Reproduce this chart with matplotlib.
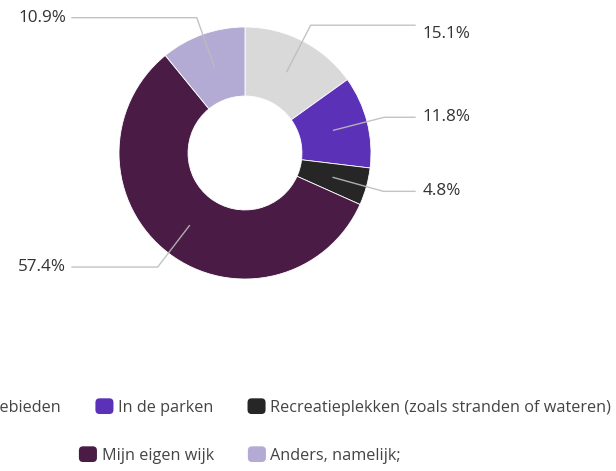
import numpy as np
import matplotlib
matplotlib.use("Agg")
import matplotlib.pyplot as plt
from matplotlib.patches import FancyBboxPatch, Patch
from matplotlib.legend_handler import HandlerPatch

# ---- data ----
categories = ["Natuurgebieden", "In de parken",
              "Recreatieplekken (zoals stranden of wateren)",
              "Mijn eigen wijk", "Anders, namelijk;"]
values = [15.1, 11.8, 4.8, 57.4, 10.9]
labels = ["15.1%", "11.8%", "4.8%", "57.4%", "10.9%"]
colors = ["#d9d9d9", "#5b31b8", "#262626", "#491b45", "#b3abd3"]

plt.rcParams['font.family'] = ['Open Sans', 'DejaVu Sans']

W, H, DPI = 616, 471, 100
fig = plt.figure(figsize=(W / DPI, H / DPI), dpi=DPI)
ax = fig.add_axes([0, 0, 1, 1])

# geometry (pixels): center and radius of the donut
cx, cy, R = 245, 153, 126

ring_w = 0.548
wedges, _ = ax.pie(values, colors=colors, startangle=90, counterclock=False,
                   radius=1, center=(0, 0), frame=True,
                   wedgeprops=dict(width=ring_w, edgecolor='white', linewidth=0.6))
ax.set_xlim(-cx / R, (W - cx) / R)
ax.set_ylim(-(H - cy) / R, cy / R)
ax.axis('off')

r_start = 1 - ring_w / 2
r_elbow = 1.14
x_line_r = (415 - cx) / R
x_line_l = (72 - cx) / R
x_text_r = (423 - cx) / R
x_text_l = (66 - cx) / R

for i, (w, lab) in enumerate(zip(wedges, labels)):
    th = np.deg2rad((w.theta1 + w.theta2) / 2)
    x0, y0 = r_start * np.cos(th), r_start * np.sin(th)
    x1, y1 = r_elbow * np.cos(th), r_elbow * np.sin(th)
    if np.cos(th) >= 0:
        xe, xt, ha = x_line_r, x_text_r, 'left'
    else:
        xe, xt, ha = x_line_l, x_text_l, 'right'
    ax.plot([x0, x1, xe], [y0, y1, y1], color='#bdbdbd', lw=1.0,
            solid_joinstyle='miter', zorder=3, alpha=0.9)
    # the top-right label sits slightly below its leader line in the reference
    dy = -9 / R if (i == 0) else 0
    ax.text(xt, y1 + dy, lab, ha=ha, va='center', fontsize=12.3, color='#333333')


class RoundHandler(HandlerPatch):
    def create_artists(self, legend, orig_handle, xdescent, ydescent,
                       width, height, fontsize, trans):
        p = FancyBboxPatch((-xdescent, -ydescent), width, height,
                           boxstyle="round,pad=0,rounding_size=3",
                           facecolor=orig_handle.get_facecolor(),
                           edgecolor='none', transform=trans)
        return [p]


handles = [Patch(facecolor=c) for c in colors]
fs = 11.7
hs = 13.0 / fs  # ~18 px square
common = dict(frameon=False, borderpad=0, borderaxespad=0, fontsize=fs,
              handlelength=hs, handleheight=hs, handletextpad=0.28,
              columnspacing=2.1, labelcolor='#444444',
              handler_map={Patch: RoundHandler()},
              bbox_transform=fig.transFigure)

leg1 = fig.legend(handles[:3], categories[:3], ncol=3, loc='center right',
                  bbox_to_anchor=(611 / W, 1 - 407 / H), **common)
leg2 = fig.legend(handles[3:], categories[3:], ncol=2, loc='center',
                  bbox_to_anchor=(240 / W, 1 - 455 / H), **common)

fig.savefig("out.png", dpi=DPI)
